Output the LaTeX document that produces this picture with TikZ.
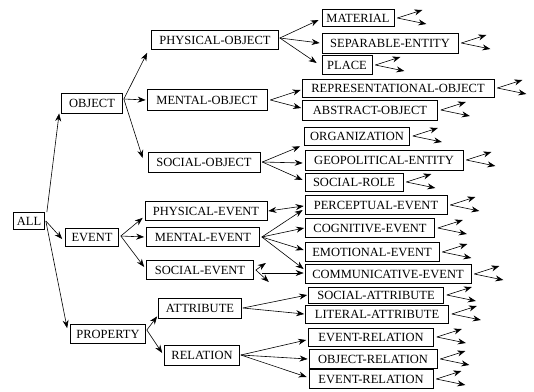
\documentclass[tikz,border=0pt]{standalone}
\usepackage{fontspec}
\setmainfont{Liberation Serif}
\usetikzlibrary{arrows.meta}
\tikzset{
  box/.style={draw, line width=0.7pt, inner sep=1pt, font=\fontsize{12.5}{14}\selectfont},
  arr/.style={-{Stealth[length=8pt,width=6pt]}, line width=0.6pt},
  darr/.style={{Stealth[length=8pt,width=6pt]}-{Stealth[length=8pt,width=6pt]}, line width=0.6pt}
}
\begin{document}
\begin{tikzpicture}[x=1pt,y=-1pt]
\useasboundingbox (0,0) rectangle (534,391);
% level 0-1
\node[box, minimum width=31pt, minimum height=17pt] (all) at (29,221) {ALL};
\node[box, minimum width=61pt, minimum height=20pt] (object) at (92,103) {OBJECT};
\node[box, minimum width=53pt, minimum height=18pt] (event) at (92,237) {EVENT};
\node[box, minimum width=75pt, minimum height=19pt] (property) at (108,334) {PROPERTY};
% level 2
\node[box, minimum width=127pt, minimum height=19pt] (pobj) at (215,40) {PHYSICAL-OBJECT};
\node[box, minimum width=120pt, minimum height=21pt] (mobj) at (207,100) {MENTAL-OBJECT};
\node[box, minimum width=112pt, minimum height=20pt] (sobj) at (204,162) {SOCIAL-OBJECT};
\node[box, minimum width=122pt, minimum height=19pt] (pev) at (206,211) {PHYSICAL-EVENT};
\node[box, minimum width=113pt, minimum height=19pt] (mev) at (203,237) {MENTAL-EVENT};
\node[box, minimum width=107pt, minimum height=19pt] (sev) at (200,270) {SOCIAL-EVENT};
\node[box, minimum width=83pt, minimum height=20pt] (attr) at (200,308) {ATTRIBUTE};
\node[box, minimum width=75pt, minimum height=20pt] (rel) at (202,355) {RELATION};
% level 3
\node[box, minimum width=72pt, minimum height=17pt] (mat) at (358,18) {MATERIAL};
\node[box, minimum width=136pt, minimum height=20pt] (sep) at (390,43) {SEPARABLE-ENTITY};
\node[box, minimum width=50pt, minimum height=19pt] (place) at (347,65) {PLACE};
\node[box, minimum width=192pt, minimum height=18pt] (repr) at (398,88) {REPRESENTATIONAL-OBJECT};
\node[box, minimum width=135pt, minimum height=20pt] (abst) at (370,110) {ABSTRACT-OBJECT};
\node[box, minimum width=105pt, minimum height=18pt] (org) at (357,136) {ORGANIZATION};
\node[box, minimum width=158pt, minimum height=20pt] (geo) at (384,160) {GEOPOLITICAL-ENTITY};
\node[box, minimum width=98pt, minimum height=18pt] (srole) at (354,182) {SOCIAL-ROLE};
\node[box, minimum width=142pt, minimum height=19pt] (perc) at (376,205) {PERCEPTUAL-EVENT};
\node[box, minimum width=129pt, minimum height=19pt] (cogn) at (370,228) {COGNITIVE-EVENT};
\node[box, minimum width=134pt, minimum height=19pt] (emot) at (372,252) {EMOTIONAL-EVENT};
\node[box, minimum width=166pt, minimum height=19pt] (comm) at (388,274) {COMMUNICATIVE-EVENT};
\node[box, minimum width=135pt, minimum height=16pt] (sattr) at (376,295) {SOCIAL-ATTRIBUTE};
\node[box, minimum width=143pt, minimum height=18pt] (lattr) at (377,314) {LITERAL-ATTRIBUTE};
\node[box, minimum width=125pt, minimum height=18pt] (erel) at (371,337) {EVENT-RELATION};
\node[box, minimum width=128pt, minimum height=19pt] (orel) at (373,359) {OBJECT-RELATION};
\node[box, minimum width=124pt, minimum height=19pt] (erelb) at (371,379) {EVENT-RELATION};
% root connectors
\draw[arr] ([xshift=2pt]all.north east) -- ([xshift=-2pt]object.south west);
\draw[arr] ([xshift=1pt]all.east) -- ([xshift=-3pt,yshift=-2pt]event.west);
\draw[arr] ([xshift=1pt]all.east) -- ([xshift=-3pt,yshift=-4pt]property.north west);
% object
\draw[arr] ([xshift=1pt,yshift=4pt]object.east) -- ([xshift=-4pt,yshift=-3pt]pobj.south west);
\draw[arr] ([xshift=1pt,yshift=4pt]object.east) -- ([xshift=-1pt]mobj.west);
\draw[arr] ([xshift=1pt,yshift=4pt]object.east) -- ([xshift=-5pt,yshift=4pt]sobj.west);
\draw[arr] ([xshift=1pt,yshift=2pt]pobj.east) -- ([xshift=-3pt,yshift=-2pt]mat.west);
\draw[arr] ([xshift=1pt,yshift=2pt]pobj.east) -- ([xshift=-2pt]sep.west);
\draw[arr] ([xshift=1pt,yshift=2pt]pobj.east) -- ([xshift=-5pt,yshift=2pt]place.west);
\draw[arr] ([xshift=3pt]mobj.east) -- ([xshift=-1pt,yshift=-2pt]repr.west);
\draw[arr] ([xshift=3pt]mobj.east) -- ([xshift=-1pt,yshift=2pt]abst.west);
\draw[arr] ([xshift=2pt]sobj.east) -- ([xshift=-4pt,yshift=-1pt]org.south west);
\draw[arr] ([xshift=2pt]sobj.east) -- ([xshift=-2pt,yshift=-3pt]geo.west);
\draw[arr] ([xshift=2pt]sobj.east) -- ([xshift=-2pt,yshift=2pt]srole.west);
% event
\draw[arr] ([xshift=2pt,yshift=1pt]event.east) -- ([xshift=-2pt,yshift=3pt]pev.south west);
\draw[arr] ([xshift=2pt,yshift=1pt]event.east) -- ([xshift=-2pt]mev.west);
\draw[arr] ([xshift=2pt,yshift=1pt]event.east) -- ([xshift=-2pt,yshift=3pt]sev.west);
\draw[darr] ([xshift=1pt]pev.east) -- ([xshift=-1pt,yshift=-1pt]perc.west);
\draw[arr] ([xshift=2pt]mev.east) -- ([xshift=-2pt,yshift=-5pt]perc.west);
\draw[arr] ([xshift=2pt]mev.east) -- ([xshift=-1pt]cogn.west);
\draw[arr] ([xshift=2pt]mev.east) -- ([xshift=-1pt,yshift=2pt]emot.west);
\draw[arr] ([xshift=2pt]mev.east) -- ([xshift=-1pt,yshift=5pt]comm.west);
\coordinate (sevu) at ([shift={(12,-7)}]sev.east);
\coordinate (sevd) at ([shift={(15,12)}]sev.east);
\draw[arr] ([xshift=2pt]sev.east) -- (sevu);
\draw[arr] ([xshift=2pt]sev.east) -- (sevd);
\draw[arr] ([xshift=8pt,yshift=-3pt]sev.east) -- ([xshift=-1pt,yshift=1pt]comm.west);
% property
\draw[arr] ([xshift=1pt,yshift=4pt]property.east) -- ([xshift=-1pt,yshift=2pt]attr.south west);
\draw[arr] ([xshift=1pt,yshift=4pt]property.east) -- ([xshift=-2pt,yshift=2pt]rel.west);
\draw[arr] ([xshift=1pt]attr.east) -- ([xshift=-1pt]sattr.west);
\draw[arr] ([xshift=1pt]attr.east) -- ([xshift=-1pt]lattr.west);
\draw[arr] ([xshift=1pt]rel.east) -- ([xshift=-2pt,yshift=-3pt]erel.west);
\draw[arr] ([xshift=1pt]rel.east) -- ([xshift=-1pt]orel.west);
\draw[arr] ([xshift=1pt]rel.east) -- ([xshift=-2pt,yshift=2pt]erelb.west);
% dangling arrows from leaves
\foreach \n in {mat,sep,place,repr,abst,org,geo,srole,perc,cogn,emot,comm,sattr,lattr,erel,orel,erelb}{
  \coordinate (\n u) at ([shift={(28,-8)}]\n.east);
  \coordinate (\n d) at ([shift={(32,6)}]\n.east);
  \draw[arr] ([xshift=3pt]\n.east) -- (\n u);
  \draw[arr] ([xshift=3pt]\n.east) -- (\n d);
}
\end{tikzpicture}
\end{document}
